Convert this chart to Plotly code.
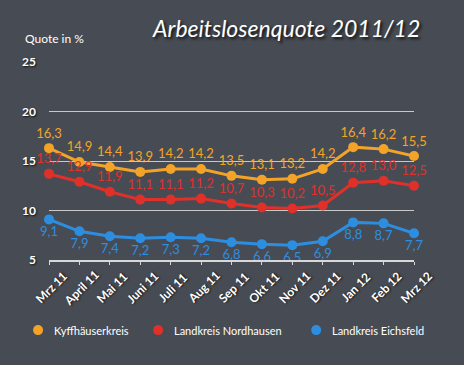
import plotly.graph_objects as go

months = ["Mrz 11", "April 11", "Mai 11", "Juni 11", "Juli 11", "Aug 11", "Sep 11",
          "Okt 11", "Nov 11", "Dez 11", "Jan 12", "Feb 12", "Mrz 12"]
kyffhaeuser = [16.3, 14.9, 14.4, 13.9, 14.2, 14.2, 13.5, 13.1, 13.2, 14.2, 16.4, 16.2, 15.5]
nordhausen = [13.7, 12.9, 11.9, 11.1, 11.1, 11.2, 10.7, 10.3, 10.2, 10.5, 12.8, 13.0, 12.5]
eichsfeld = [9.1, 7.9, 7.4, 7.2, 7.3, 7.2, 6.8, 6.6, 6.5, 6.9, 8.8, 8.7, 7.7]
y_ticks = [5, 10, 15, 20, 25]
series_names = ["Kyffhäuserkreis", "Landkreis Nordhausen", "Landkreis Eichsfeld"]
series_values = [kyffhaeuser, nordhausen, eichsfeld]

colors = ["#f3a428", "#e0302a", "#2d8ee0"]
text_pos = ["top center", "top center", "bottom center"]
legend_x = [-0.030, 0.299, 0.732]   # paper coords of legend dots
legend_y = -0.354

FONT = "Lato, 'Open Sans', sans-serif"
BG = "#474c54"

fig = go.Figure()
for name, vals, col, pos in zip(series_names, series_values, colors, text_pos):
    fig.add_trace(go.Scatter(
        x=months, y=vals, mode="lines+markers+text", name=name,
        line=dict(color=col, width=3),
        marker=dict(color=col, size=10),
        texttemplate="%{y:.1f}", textposition=pos,
        textfont=dict(color=col, size=13, family=FONT),
        showlegend=False, cliponaxis=False,
    ))

shapes = []
annotations = []
for name, col, lx in zip(series_names, colors, legend_x):
    shapes.append(dict(
        type="circle", xref="paper", yref="paper",
        xsizemode="pixel", ysizemode="pixel",
        xanchor=lx, yanchor=legend_y, x0=-5, x1=5, y0=-5, y1=5,
        fillcolor=col, line=dict(width=0),
    ))
    annotations.append(dict(
        text=name, xref="paper", yref="paper", x=lx, xshift=14, y=legend_y,
        xanchor="left", yanchor="middle", showarrow=False,
        font=dict(size=11, color="white", family=FONT),
    ))

# rotated month labels, centred under each tick
for m in months:
    annotations.append(dict(
        text=m, xref="x", yref="paper", x=m, y=0, yshift=-27, xshift=2,
        xanchor="center", yanchor="middle", textangle=-45, showarrow=False,
        font=dict(size=12, color="white", family=FONT, weight="bold",
                  shadow="1px 1px 2px #111"),
    ))

annotations += [
    dict(text="Arbeitslosenquote 2011/12", xref="paper", yref="paper",
         x=0.65, y=1.0, yshift=34, xanchor="center", yanchor="middle",
         showarrow=False,
         font=dict(size=23, color="white", family=FONT, style="italic",
                   shadow="2px 2px 3px #111")),
    dict(text="Quote in %", xref="paper", yref="paper",
         x=-0.07, y=1.0, yshift=24, xanchor="left", yanchor="middle",
         showarrow=False, font=dict(size=12, color="white", family=FONT)),
]

fig.update_layout(
    width=464, height=365,
    margin=dict(l=49, r=50, t=62, b=105),
    paper_bgcolor=BG, plot_bgcolor=BG,
    separators=",.",
    showlegend=False,
    font=dict(family=FONT, color="white"),
    xaxis=dict(
        type="category", range=[0, 12], showgrid=False, automargin=False,
        showline=True, linecolor="#d8d8d8", linewidth=2,
        ticks="outside", ticklen=3, tickcolor="#d8d8d8",
        showticklabels=False,
    ),
    yaxis=dict(
        range=[5, 25], tickvals=y_ticks, showgrid=True, automargin=False,
        gridcolor="#c8c8c8", gridwidth=1, zeroline=False,
        ticklabelstandoff=12,
        tickfont=dict(size=12, color="white", family=FONT, weight="bold",
                      shadow="1px 1px 2px #111"),
    ),
    shapes=shapes,
    annotations=annotations,
)

fig.write_html(
    "out.html",
    config={"displayModeBar": False},
    post_script="document.body.style.margin='0';document.body.style.overflow='hidden';",
)
